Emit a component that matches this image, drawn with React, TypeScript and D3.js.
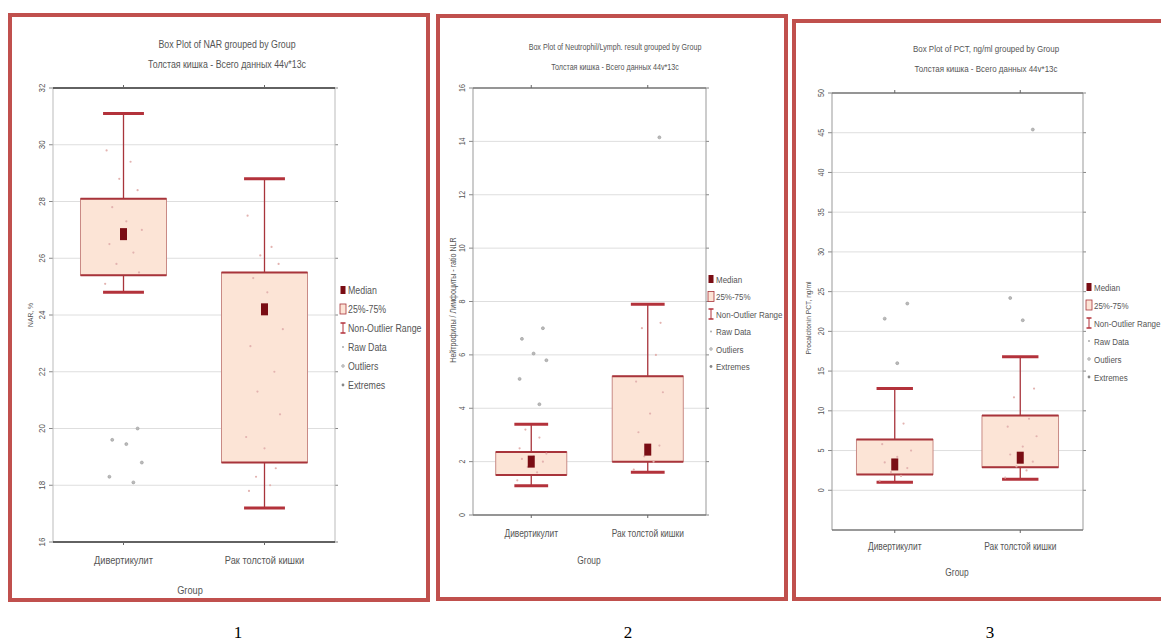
import React from "react";
import * as d3 from "d3";

const groups = ["Дивертикулит", "Рак толстой кишки"];
const legendItems = ["Median", "25%-75%", "Non-Outlier Range", "Raw Data", "Outliers", "Extremes"];
const panelNumbers = ["1", "2", "3"];
const subtitle = "Толстая кишка - Всего данных 44v*13c";

// panel 1: NAR
const narTitle = "Box Plot of NAR grouped by Group";
const narYLabel = "NAR, %";
const narTicks = [16, 18, 20, 22, 24, 26, 28, 30, 32];
const narMin = [24.8, 17.2];
const narQ1 = [25.4, 18.8];
const narMedian = [26.85, 24.2];
const narQ3 = [28.1, 25.5];
const narMax = [31.1, 28.8];
const narRaw = [
  [29.8, 29.4, 28.8, 28.4, 27.8, 27.3, 27.0, 26.5, 26.2, 25.8, 25.5, 25.1],
  [27.5, 26.4, 26.1, 25.8, 25.3, 24.8, 23.5, 22.9, 22.0, 21.3, 20.5, 19.7, 19.3, 18.6, 18.3, 18.0, 17.8],
];
const narOutliers = [[20.0, 19.6, 19.45, 18.8, 18.3, 18.1], []];

// panel 2: NLR
const nlrTitle = "Box Plot of Neutrophil/Lymph. result grouped by Group";
const nlrYLabel = "Нейтрофилы / Лимфоциты - ratio NLR";
const nlrTicks = [0, 2, 4, 6, 8, 10, 12, 14, 16];
const nlrMin = [1.1, 1.6];
const nlrQ1 = [1.5, 2.0];
const nlrMedian = [2.0, 2.45];
const nlrQ3 = [2.36, 5.2];
const nlrMax = [3.4, 7.9];
const nlrRaw = [
  [1.3, 1.6, 1.8, 2.0, 2.1, 2.2, 2.3, 2.5, 2.9, 3.2],
  [1.7, 2.0, 2.2, 2.6, 3.1, 3.8, 4.6, 5.0, 6.0, 7.0, 7.2],
];
const nlrOutliers = [[7.0, 6.6, 6.05, 5.8, 5.1, 4.15], [14.15]];

// panel 3: PCT
const pctTitle = "Box Plot of PCT, ng/ml grouped by Group";
const pctYLabel = "Procalcitonin PCT, ng/ml";
const pctTicks = [0, 5, 10, 15, 20, 25, 30, 35, 40, 45, 50];
const pctMin = [1.0, 1.4];
const pctQ1 = [2.0, 2.9];
const pctMedian = [3.25, 4.1];
const pctQ3 = [6.4, 9.4];
const pctMax = [12.8, 16.8];
const pctRaw = [
  [1.2, 1.8, 2.3, 2.8, 3.5, 4.2, 5.0, 5.8, 8.4],
  [1.6, 2.5, 3.0, 3.6, 4.5, 5.5, 6.8, 8.0, 9.0, 11.7, 12.8],
];
const pctOutliers = [[23.5, 21.6, 16.0], [45.4, 24.2, 21.4]];

const jitter = [-0.12, 0.05, -0.03, 0.1, -0.08, 0.02, 0.13, -0.1, 0.07, -0.05, 0.11, -0.13, 0.0, 0.08, -0.06, 0.04, -0.11, 0.12, -0.02];

const RED = "#c0504d";
const BOX_STROKE = "#a8343b";
const BOX_FILL = "#fce4d6";
const MEDIAN = "#7a0d14";
const FONT = "'Liberation Sans', Arial, sans-serif";
const NARROW = 0.84;

// condensed text, Statistica draws these in a narrow face
function NText({ x, y, rotate = 0, anchor = "start", size, children }: any) {
  return (
    <text
      transform={`translate(${x},${y}) rotate(${rotate}) scale(${NARROW},1)`}
      textAnchor={anchor}
      fontSize={size}
      fill="#555"
    >
      {children}
    </text>
  );
}

const panels = [
  {
    title: narTitle, yLabel: narYLabel, ticks: narTicks, domain: [16, 32],
    min: narMin, q1: narQ1, med: narMedian, q3: narQ3, max: narMax, raw: narRaw, out: narOutliers,
    frame: { x: 10, y: 15, w: 418, h: 585 },
    left: 53, right: 335, top: 88, bottom: 542, fs: 9.5, yfs: 8, tfs: 10.5,
    titleX: 227, titleY: 48, xLabY: 564, groupX: 190, groupY: 594, yLabX: 33, yLabY: 315,
    legX: 343, legY: 290, legStep: 19, dark: true,
  },
  {
    title: nlrTitle, yLabel: nlrYLabel, ticks: nlrTicks, domain: [0, 16],
    min: nlrMin, q1: nlrQ1, med: nlrMedian, q3: nlrQ3, max: nlrMax, raw: nlrRaw, out: nlrOutliers,
    frame: { x: 438, y: 16, w: 348, h: 583 },
    left: 473, right: 706, top: 88, bottom: 515, fs: 8.5, yfs: 8.5, tfs: 8.5,
    titleX: 615, titleY: 50, xLabY: 537, groupX: 589, groupY: 564, yLabX: 456, yLabY: 300,
    legX: 711, legY: 279, legStep: 17.5, dark: false,
  },
  {
    title: pctTitle, yLabel: pctYLabel, ticks: pctTicks, domain: [-5, 50],
    min: pctMin, q1: pctQ1, med: pctMedian, q3: pctQ3, max: pctMax, raw: pctRaw, out: pctOutliers,
    frame: { x: 794, y: 21, w: 420, h: 578 },
    left: 832, right: 1083, top: 93, bottom: 530, fs: 8.5, yfs: 8, tfs: 9.5,
    titleX: 986, titleY: 52, xLabY: 550, groupX: 957, groupY: 576, yLabX: 811, yLabY: 318,
    legX: 1089, legY: 287, legStep: 18, dark: false,
  },
];

function Panel({ p }: { p: any }) {
  const x = d3.scalePoint<string>().domain(groups).range([p.left, p.right]).padding(0.5);
  const y = d3.scaleLinear().domain(p.domain).range([p.bottom, p.top]);
  const step = x.step();
  const bw = step * 0.305;
  const cw = step * 0.145;
  const frameTB = p.dark ? "#333" : "#777";
  const frameLR = p.dark ? "#bbb" : "#999";
  const fs = p.fs;

  return (
    <g fontFamily={FONT}>
      <rect x={p.frame.x} y={p.frame.y} width={p.frame.w} height={p.frame.h} fill="#fff" stroke={RED} strokeWidth={4} />
      <NText x={p.titleX} y={p.titleY} anchor="middle" size={p.tfs}>{p.title}</NText>
      <NText x={p.titleX} y={p.titleY + 20} anchor="middle" size={p.tfs}>{subtitle}</NText>

      {p.ticks.map((t: number) => (
        <g key={t}>
          <line x1={p.left} x2={p.right} y1={y(t)} y2={y(t)} stroke="#dedede" strokeWidth={1} />
          <line x1={p.left - 4} x2={p.left} y1={y(t)} y2={y(t)} stroke="#888" />
          <line x1={p.right} x2={p.right + 3} y1={y(t)} y2={y(t)} stroke="#888" />
          <NText x={p.left - 8} y={y(t)} rotate={-90} anchor="middle" size={fs}>{t}</NText>
        </g>
      ))}

      <line x1={p.left} x2={p.left} y1={p.top} y2={p.bottom} stroke={frameLR} />
      <line x1={p.right} x2={p.right} y1={p.top} y2={p.bottom} stroke={frameLR} />
      <line x1={p.left} x2={p.right} y1={p.top} y2={p.top} stroke={frameTB} strokeWidth={1.3} />
      <line x1={p.left} x2={p.right} y1={p.bottom} y2={p.bottom} stroke={frameTB} strokeWidth={1.3} />

      {groups.map((g, i) => {
        const cx = x(g)!;
        return (
          <g key={g}>
            <line x1={cx} x2={cx} y1={p.bottom} y2={p.bottom + 3} stroke="#666" />
            <line x1={cx} x2={cx} y1={p.top} y2={p.top - 3} stroke="#666" />
            <line x1={cx} x2={cx} y1={y(p.max[i])} y2={y(p.q3[i])} stroke={BOX_STROKE} strokeWidth={1.3} />
            <line x1={cx} x2={cx} y1={y(p.q1[i])} y2={y(p.min[i])} stroke={BOX_STROKE} strokeWidth={1.3} />
            <rect x={cx - bw} y={y(p.q3[i])} width={bw * 2} height={y(p.q1[i]) - y(p.q3[i])} fill={BOX_FILL} stroke="#c98a85" strokeWidth={1} />
            <line x1={cx - bw} x2={cx + bw} y1={y(p.q3[i])} y2={y(p.q3[i])} stroke={BOX_STROKE} strokeWidth={2} />
            <line x1={cx - bw} x2={cx + bw} y1={y(p.q1[i])} y2={y(p.q1[i])} stroke={BOX_STROKE} strokeWidth={2} />
            <line x1={cx - cw} x2={cx + cw} y1={y(p.max[i])} y2={y(p.max[i])} stroke="#b3323b" strokeWidth={3} />
            <line x1={cx - cw} x2={cx + cw} y1={y(p.min[i])} y2={y(p.min[i])} stroke="#b3323b" strokeWidth={3} />
            {p.raw[i].map((v: number, k: number) => (
              <circle key={"r" + k} cx={cx + jitter[k % jitter.length] * step} cy={y(v)} r={1.1} fill="#e3b3b0" />
            ))}
            {p.out[i].map((v: number, k: number) => (
              <circle key={"o" + k} cx={cx + jitter[(k + 3) % jitter.length] * step} cy={y(v)} r={1.5} fill="#bbb" stroke="#999" strokeWidth={0.6} />
            ))}
            <rect x={cx - 3.5} y={y(p.med[i]) - 6} width={7} height={12} fill={MEDIAN} />
            <NText x={cx} y={p.xLabY} anchor="middle" size={fs + 1.5}>{g}</NText>
          </g>
        );
      })}

      <NText x={p.groupX} y={p.groupY} anchor="middle" size={fs + 1.5}>Group</NText>
      <NText x={p.yLabX} y={p.yLabY} rotate={-90} anchor="middle" size={p.yfs}>{p.yLabel}</NText>

      {legendItems.map((item, k) => {
        const ly = p.legY + k * p.legStep;
        const lx = p.legX;
        return (
          <g key={item}>
            {k === 0 && <rect x={lx - 2.5} y={ly - 4} width={5} height={8} fill={MEDIAN} />}
            {k === 1 && <rect x={lx - 3} y={ly - 5} width={6} height={10} fill={BOX_FILL} stroke={BOX_STROKE} strokeWidth={0.8} />}
            {k === 2 && (
              <g stroke="#b3323b">
                <line x1={lx} x2={lx} y1={ly - 5} y2={ly + 5} />
                <line x1={lx - 2.5} x2={lx + 2.5} y1={ly - 5} y2={ly - 5} strokeWidth={1.5} />
                <line x1={lx - 2.5} x2={lx + 2.5} y1={ly + 5} y2={ly + 5} strokeWidth={1.5} />
              </g>
            )}
            {k === 3 && <circle cx={lx} cy={ly} r={1} fill="#aaa" />}
            {k === 4 && <circle cx={lx} cy={ly} r={1.4} fill="#ccc" stroke="#999" strokeWidth={0.5} />}
            {k === 5 && <circle cx={lx} cy={ly} r={1.4} fill="#888" />}
            <NText x={lx + 5} y={ly + 3.5} size={fs + 1}>{item}</NText>
          </g>
        );
      })}
    </g>
  );
}

export default function App() {
  const numX = [238, 628, 990];
  return (
    <svg width={1161} height={642} style={{ position: "absolute", left: 0, top: 0, display: "block", background: "#fff" }}>
      {panels.map((p, i) => (
        <Panel key={i} p={p} />
      ))}
      {panelNumbers.map((n, i) => (
        <text key={n} x={numX[i]} y={638} textAnchor="middle" fontSize={17} fontFamily="'Liberation Serif', 'Times New Roman', serif" fill="#000">{n}</text>
      ))}
    </svg>
  );
}
